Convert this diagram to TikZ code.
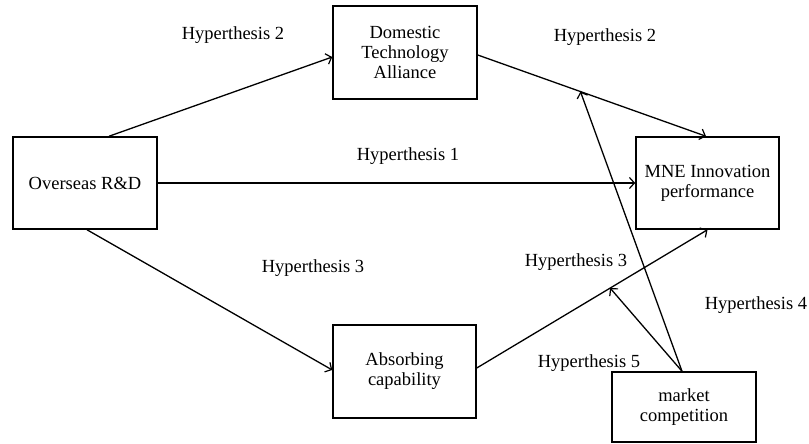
\documentclass[tikz,border=0pt]{standalone}
\usepackage{fontspec}
\setmainfont{Liberation Serif}
\usetikzlibrary{arrows.meta,calc}
\begin{document}
\begin{tikzpicture}[x=1pt,y=-1pt,
  every node/.style={font=\fontsize{18.5}{20}\selectfont},
  box/.style={draw,line width=1.5pt,align=center,inner sep=0pt},
  lbl/.style={inner sep=0pt},
  conn/.style={line width=1.3pt,-{Straight Barb[length=5pt,width=11pt,line width=1.2pt]}}]
\useasboundingbox (0,0) rectangle (809,444);
\node[box,minimum width=144pt,minimum height=92pt] (ov) at (85,183) {Overseas R\&D};
\node[box,minimum width=144pt,minimum height=93pt] (dta) at (405,52.5) {Domestic\\Technology\\Alliance};
\node[box,minimum width=143pt,minimum height=92pt] (mne) at (707.5,183) {MNE Innovation\\performance};
\node[box,minimum width=143pt,minimum height=93pt] (abs) at (404.5,371.5) {Absorbing\\capability};
\node[box,minimum width=144pt,minimum height=70pt] (mc) at (684,407) {market\\competition};

\draw[conn] ([xshift=24pt]ov.north) -- ([yshift=-4.5pt]dta.west);
\draw[conn] ([yshift=-2.5pt]dta.east) coordinate (d1) -- ([xshift=-1.5pt]mne.north) coordinate (d2);
\draw[conn] (ov.east) -- (mne.west);
\draw[conn] ([xshift=2pt]ov.south) -- ([yshift=1.5pt]abs.west);
\draw[conn] ([yshift=3.5pt]abs.east) coordinate (a1) -- (mne.south) coordinate (a2);
\coordinate (h4) at ($(d1)!0.45!(d2)$);
\coordinate (h5) at ($(a1)!0.578!(a2)$);
\draw[conn] ([xshift=-2pt]mc.north) -- (h4);
\draw[conn] ([xshift=-2pt]mc.north) -- (h5);

\node[lbl] (l2a) at (233,35) {Hyperthesis 2};
\node[lbl] (l2b) at (605,37) {Hyperthesis 2};
\node[lbl] (l1) at (408,156) {Hyperthesis 1};
\node[lbl] (l3a) at (313,268) {Hyperthesis 3};
\node[lbl] (l3b) at (576,262) {Hyperthesis 3};
\node[lbl] (l4) at (756,305) {Hyperthesis 4};
\node[lbl] (l5) at (589,363) {Hyperthesis 5};
\end{tikzpicture}
\end{document}
